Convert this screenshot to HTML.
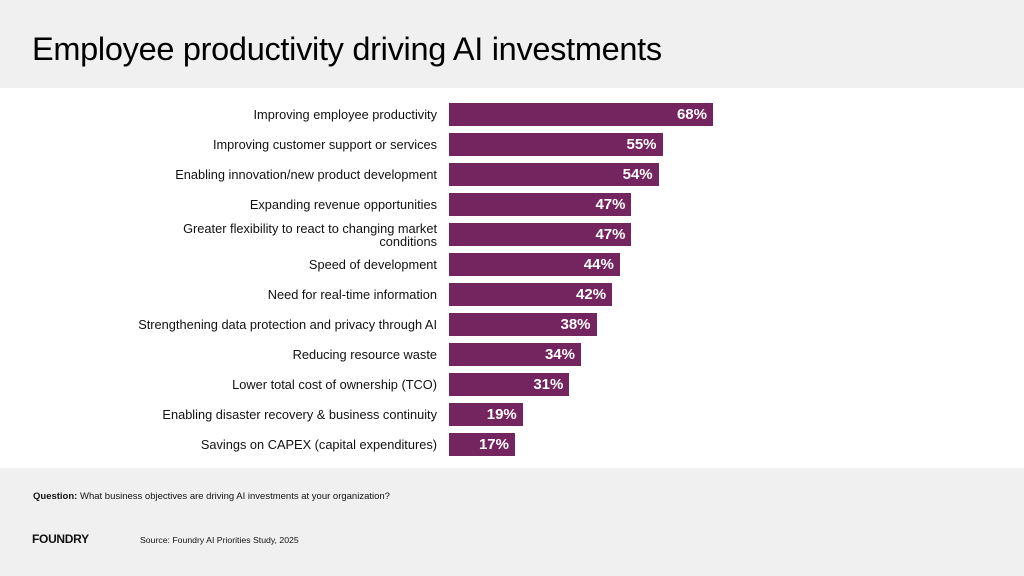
<!DOCTYPE html>
<html><head><meta charset="utf-8"><style>
body{margin:0;width:1024px;height:576px;overflow:hidden;font-family:"Liberation Sans",sans-serif;background:#fff;position:relative}
#hdr{position:absolute;left:0;top:0;width:1024px;height:88px;background:#f0f0f0}
#title{position:absolute;left:32px;top:31px;font-size:32.5px;color:#000;margin:0;font-weight:normal;letter-spacing:-0.3px;white-space:nowrap}
#ftr{position:absolute;left:0;top:468px;width:1024px;height:108px;background:#f0f0f0}
.lbl{position:absolute;right:587px;font-size:12.8px;color:#111;text-align:right;line-height:13px;width:360px;white-space:nowrap}
.bar{position:absolute;height:23px;background:#74245f}
.val{position:absolute;font-size:15px;font-weight:bold;color:#fff;line-height:23px}
</style></head><body>
<div id="hdr"><h1 id="title">Employee productivity driving AI investments</h1></div>
<div id="chart"></div>
<div id="ftr">
<div style="position:absolute;left:33px;top:23px;font-size:9.5px;color:#111;white-space:nowrap"><b>Question:</b> What business objectives are driving AI investments at your organization?</div>
<div style="position:absolute;left:32px;top:64px;font-size:12px;font-weight:bold;color:#111;letter-spacing:-0.3px">FOUNDRY</div>
<div style="position:absolute;left:140px;top:67px;font-size:8.7px;color:#111;white-space:nowrap">Source: Foundry AI Priorities Study, 2025</div>
</div>
<script>
const categories=["Improving employee productivity","Improving customer support or services","Enabling innovation/new product development","Expanding revenue opportunities","Greater flexibility to react to changing market conditions","Speed of development","Need for real-time information","Strengthening data protection and privacy through AI","Reducing resource waste","Lower total cost of ownership (TCO)","Enabling disaster recovery & business continuity","Savings on CAPEX (capital expenditures)"];
const values=[68,55,54,47,47,44,42,38,34,31,19,17];
const x0=449,pxPer=264/68,y0=103,step=30;
const xs=v=>v*pxPer;
const c=document.getElementById('chart');
categories.forEach((cat,i)=>{
 const y=y0+i*step;
 const l=document.createElement('div');l.className='lbl';
 
 
 l.textContent=cat;
 if(cat.startsWith('Greater')){l.style.width='270px';l.style.whiteSpace='normal';l.style.top=(y-1)+'px';}else l.style.top=(y+5)+'px';
 c.appendChild(l);
 const b=document.createElement('div');b.className='bar';
 
 
 b.style.left=x0+'px';b.style.top=y+'px';b.style.width=xs(values[i])+'px';
 c.appendChild(b);
 const t=document.createElement('div');t.className='val';
 
 
 t.textContent=values[i]+'%';
 t.style.right=(1024-x0-xs(values[i])+6)+'px';t.style.top=y+'px';
 c.appendChild(t);
});
</script>
</body></html>
